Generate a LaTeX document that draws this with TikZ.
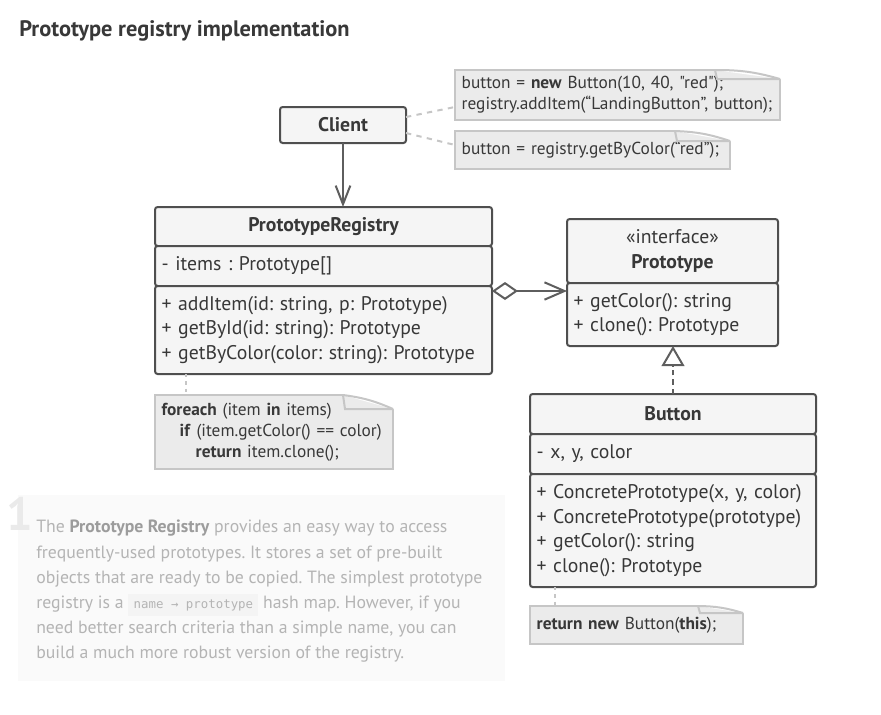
\documentclass[tikz,border=0pt]{standalone}
\usepackage{fontspec}
\setmainfont{PT Sans}[Ligatures=TeXOff]
\newfontfamily\codefont{DejaVu Sans Mono}
\usetikzlibrary{positioning, arrows.meta}
\frenchspacing

\definecolor{umlline}{HTML}{4F4F4F}
\definecolor{umlfill}{HTML}{F5F5F5}
\definecolor{umltext}{HTML}{383838}
\definecolor{arrowcol}{HTML}{5E5E5E}
\definecolor{notefill}{HTML}{EBEBEB}
\definecolor{noteline}{HTML}{C6C6C6}
\definecolor{desctext}{HTML}{B4B4B4}
\definecolor{descbold}{HTML}{9C9C9C}
\definecolor{descfill}{HTML}{FAFAFA}
\definecolor{numcol}{HTML}{EAEAEA}
\definecolor{codebg}{HTML}{F4F4F4}

\newcommand{\umlsize}{\fontsize{14.8pt}{18.5pt}\selectfont}
\newcommand{\notesize}{\fontsize{13pt}{15.8pt}\selectfont}
\newcommand{\notefold}[3]{%
  \fill[white] ([xshift=-#2, yshift=2pt]#1.north east) -- ([xshift=2pt, yshift=2pt]#1.north east)
    -- ([xshift=2pt, yshift=-#3]#1.north east) -- ([yshift=-#3]#1.north east)
    -- ([xshift=-#2]#1.north east) -- cycle;
  \draw[notestroke] ([xshift=-#2]#1.north east) to[bend left=8] ([yshift=-#3]#1.north east);
  \draw[notestroke] ([xshift=-#2]#1.north east) -- ([xshift=-#2+1.5pt, yshift=-#3]#1.north east)
    -- ([yshift=-#3]#1.north east);
}

\begin{document}
\begin{tikzpicture}[x=0.75pt, y=-0.75pt,
  uml/.style={draw=umlline, fill=umlfill, line width=1.5pt, rounded corners=2pt,
    outer sep=0pt, inner ysep=0pt, text=umltext, font=\umlsize},
  umlhead/.style={uml, align=center, font=\umlsize\bfseries},
  umlbody/.style={uml, align=left, minimum width=#1, text width={#1-10pt}, inner xsep=5pt},
  notestroke/.style={draw=noteline, line width=1.5pt},
  note/.style={notestroke, fill=notefill, align=left, anchor=north west, outer sep=0pt,
    inner xsep=5pt, inner ysep=0pt, text=umltext, font=\notesize, text width={#1-10pt}, minimum width=#1},
  link/.style={draw=arrowcol, line width=1.5pt},
  noteconn/.style={draw=noteline, line width=1.5pt, dash pattern=on 4pt off 4pt}]
  \useasboundingbox (0,0) rectangle (881,714);

  \node[anchor=base west, font=\fontsize{16.8pt}{19pt}\selectfont\bfseries, text=umltext, inner sep=0]
    (title) at (19,36) {Prototype registry implementation};

  % client and its notes
  \node[umlhead, minimum width=94.5pt, minimum height=27pt] (client) at (343,125) {Client};

  \node[note=243.75pt, minimum height=37.5pt] (addnote) at (455,70)
    {button = \textbf{new} Button(10, 40, "red");\\registry.addItem(“LandingButton”, button);};
  \notefold{addnote}{48.75pt}{6.75pt}

  \node[note=206.25pt, minimum height=28.5pt] (colornote) at (455,131)
    {button = registry.getByColor(“red”);};
  \notefold{colornote}{41.25pt}{7.5pt}

  \draw[noteconn] ([yshift=6pt]client.east) -- ([yshift=-9pt]addnote.west);
  \draw[noteconn] ([yshift=-6pt]client.east) -- ([yshift=3.75pt]colornote.west);

  % registry
  \node[umlhead, minimum width=252.75pt, minimum height=29.25pt, anchor=north west]
    (regh) at (155,207) {PrototypeRegistry};
  \node[umlbody=252.75pt, minimum height=30pt, below=0pt of regh]
    (regf) {- items : Prototype[]};
  \node[umlbody=252.75pt, minimum height=66pt, below=0pt of regf]
    (regm) {+ addItem(id: string, p: Prototype)\\+ getById(id: string): Prototype\\+ getByColor(color: string): Prototype};

  \node[note=178.5pt, minimum height=55.5pt] (loopnote) at (155,395)
    {\textbf{foreach} (item \textbf{in} items)\\\hspace*{13.5pt}\textbf{if} (item.getColor() == color)\\\hspace*{25.5pt}\textbf{return} item.clone();};
  \notefold{loopnote}{37.5pt}{10.5pt}

  \draw[noteconn, dash pattern=on 2.5pt off 3pt]
    ([xshift=23.25pt]regm.south west) -- ([xshift=23.25pt]loopnote.north west);

  % prototype interface
  \node[umlhead, minimum width=158.25pt, minimum height=48pt, anchor=north west]
    (proth) at (567,219) {\textmd{«interface»}\\Prototype};
  \node[umlbody=158.25pt, minimum height=47.25pt, below=0pt of proth]
    (protm) {+ getColor(): string\\+ clone(): Prototype};

  % button
  \node[umlhead, minimum width=214.5pt, minimum height=30pt, anchor=north west]
    (bth) at (530,394) {Button};
  \node[umlbody=214.5pt, minimum height=30pt, below=0pt of bth]
    (btf) {- x, y, color};
  \node[umlbody=214.5pt, minimum height=84.75pt, below=0pt of btf]
    (btm) {+ ConcretePrototype(x, y, color)\\+ ConcretePrototype(prototype)\\+ getColor(): string\\+ clone(): Prototype};

  \node[note=159.75pt, minimum height=28.5pt] (clonenote) at (530,606)
    {\textbf{return new} Button(\textbf{this});};
  \notefold{clonenote}{33.75pt}{5.25pt}

  \draw[noteconn, dash pattern=on 2.5pt off 3pt]
    ([xshift=18.75pt]btm.south west) -- ([xshift=18.75pt]clonenote.north west);

  % relations
  \draw[link, -{Straight Barb[length=14pt, width=11pt]}] (client) -- (client |- regh.north);

  \coordinate (agg) at ([yshift=-3.75pt]regm.north east);
  \draw[link, {Diamond[open, length=19.5pt, width=13.5pt]}-{Straight Barb[length=15pt, width=13pt]}]
    (agg) -- (agg -| protm.west);

  \draw[link, dash pattern=on 4pt off 3pt, -{Triangle[open, length=15pt, width=17pt]}]
    (bth.north) -- (bth.north |- protm.south);

  % description
  \node[fill=descfill, minimum width=365.25pt, minimum height=139.5pt, anchor=north west, inner sep=0]
    (descbox) at (18,495) {};
  \node[anchor=base west, font=\fontsize{35pt}{35pt}\selectfont\bfseries, text=numcol, inner sep=0]
    (num) at (6,530) {1};
  \node[anchor=north west, align=left, inner sep=0, text=desctext, font=\fontsize{13.3pt}{18.9pt}\selectfont]
    (desc) at (36,520)
    {The \textcolor{descbold}{\textbf{Prototype Registry}} provides an easy way to access\\
     frequently-used prototypes. It stores a set of pre-built\\
     objects that are ready to be copied. The simplest prototype\\
     registry is a {\setlength{\fboxsep}{4pt}\colorbox{codebg}{\codefont\fontsize{9.3pt}{10pt}\selectfont name → prototype}} hash map. However, if you\\
     need better search criteria than a simple name, you can\\
     build a much more robust version of the registry.};
\end{tikzpicture}
\end{document}
